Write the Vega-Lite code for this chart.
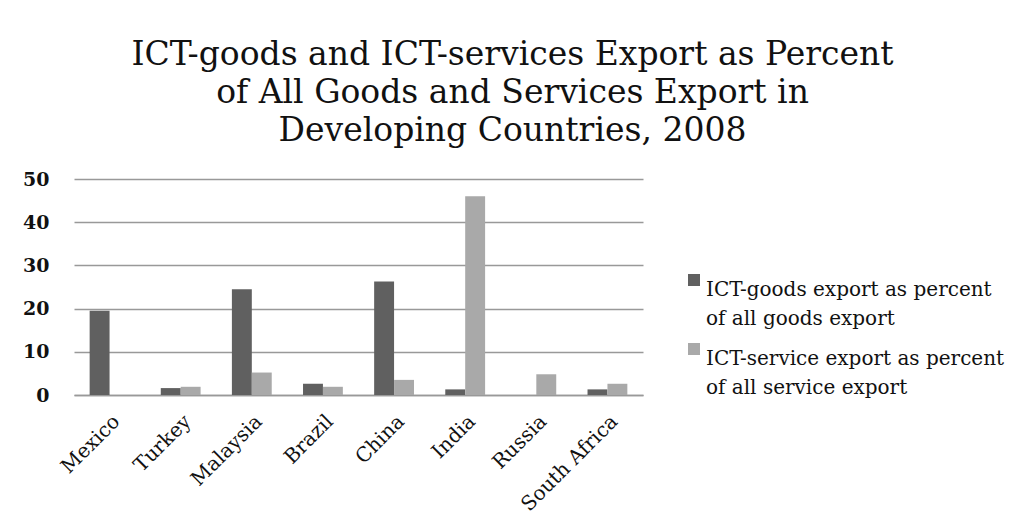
{
  "$schema": "https://vega.github.io/schema/vega-lite/v6.json",
  "width": 569,
  "height": 216,
  "autosize": {"type": "none"},
  "padding": {"left": 74, "top": 179, "right": 381, "bottom": 124},
  "background": "white",
  "title": {
    "text": ["ICT-goods and ICT-services Export as Percent", "of All Goods and Services Export in", "Developing Countries, 2008"],
    "font": "DejaVu Serif",
    "fontSize": 33,
    "fontWeight": "normal",
    "lineHeight": 38,
    "color": "#111111",
    "anchor": "middle",
    "dx": 154,
    "offset": 22
  },
  "data": {
    "values": [
      {"country": "Mexico", "series": "ICT-goods export as percent|of all goods export", "value": 19.5},
      {"country": "Turkey", "series": "ICT-goods export as percent|of all goods export", "value": 1.6},
      {"country": "Turkey", "series": "ICT-service export as percent|of all service export", "value": 1.9},
      {"country": "Malaysia", "series": "ICT-goods export as percent|of all goods export", "value": 24.5},
      {"country": "Malaysia", "series": "ICT-service export as percent|of all service export", "value": 5.2},
      {"country": "Brazil", "series": "ICT-goods export as percent|of all goods export", "value": 2.6},
      {"country": "Brazil", "series": "ICT-service export as percent|of all service export", "value": 1.9},
      {"country": "China", "series": "ICT-goods export as percent|of all goods export", "value": 26.3},
      {"country": "China", "series": "ICT-service export as percent|of all service export", "value": 3.5},
      {"country": "India", "series": "ICT-goods export as percent|of all goods export", "value": 1.3},
      {"country": "India", "series": "ICT-service export as percent|of all service export", "value": 46.0},
      {"country": "Russia", "series": "ICT-service export as percent|of all service export", "value": 4.8},
      {"country": "South Africa", "series": "ICT-goods export as percent|of all goods export", "value": 1.3},
      {"country": "South Africa", "series": "ICT-service export as percent|of all service export", "value": 2.6}
    ]
  },
  "mark": {"type": "bar"},
  "encoding": {
    "x": {
      "field": "country",
      "type": "nominal",
      "sort": ["Mexico", "Turkey", "Malaysia", "Brazil", "China", "India", "Russia", "South Africa"],
      "scale": {"paddingInner": 0.44, "paddingOuter": 0.22},
      "axis": {
        "title": null,
        "labelAngle": -45,
        "labelFont": "DejaVu Serif",
        "labelFontSize": 20,
        "labelColor": "#111111",
        "labelPadding": 16,
        "ticks": false,
        "domainColor": "#999999",
        "domainWidth": 1.5,
        "grid": false
      }
    },
    "xOffset": {
      "field": "series",
      "type": "nominal",
      "sort": ["ICT-goods export as percent|of all goods export", "ICT-service export as percent|of all service export"]
    },
    "y": {
      "field": "value",
      "type": "quantitative",
      "scale": {"domain": [0, 50], "nice": false},
      "axis": {
        "title": null,
        "values": [0, 10, 20, 30, 40, 50],
        "labelFont": "DejaVu Serif",
        "labelFontSize": 19,
        "labelFontWeight": "bold",
        "labelColor": "#111111",
        "labelPadding": 25,
        "ticks": false,
        "domain": false,
        "gridColor": "#999999",
        "gridWidth": 1.5
      }
    },
    "color": {
      "field": "series",
      "type": "nominal",
      "sort": ["ICT-goods export as percent|of all goods export", "ICT-service export as percent|of all service export"],
      "scale": {"range": ["#606060", "#a9a9a9"]},
      "legend": {
        "title": null,
        "orient": "none",
        "legendX": 610,
        "legendY": 91,
        "symbolType": "square",
        "symbolSize": 144,
        "symbolStrokeWidth": 0,
        "labelExpr": "split(datum.label, '|')",
        "labelFont": "DejaVu Serif",
        "labelFontSize": 20,
        "labelColor": "#111111",
        "labelBaseline": "top",
        "labelOffset": 2,
        "labelLimit": 400,
        "rowPadding": 10
      }
    }
  },
  "config": {
    "view": {"stroke": null},
    "style": {"guide-label": {"lineHeight": 29}}
  }
}
